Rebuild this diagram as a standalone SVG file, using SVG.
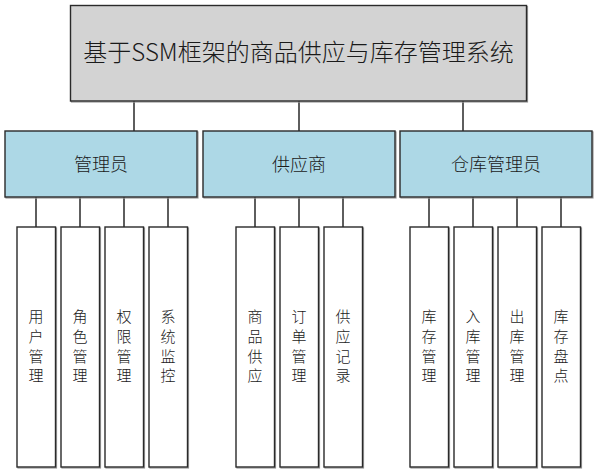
<svg xmlns="http://www.w3.org/2000/svg" width="597" height="473" viewBox="0 0 597 473">
<style>
.sh{fill:none;stroke:#9a9a9a;stroke-width:1.2}
.b{stroke:#2a2a2a;stroke-width:1.4}
.top{fill:#d3d3d3}
.mid{fill:#add8e6}
.leaf{fill:#ffffff}
.c{stroke:#2a2a2a;stroke-width:1.5;fill:none}
text{font-family:"Microsoft YaHei","Noto Sans CJK SC",sans-serif;fill:#1a1a1a;text-anchor:middle;font-weight:300}
.t1{font-size:24px}
.t2{font-size:18px}
.t3{font-size:15px}
</style>
<rect width="597" height="473" fill="#ffffff"/>
<g id="connectors">
<path class="c" d="M134,101V131M299,101V131M463,101V131"/>
<path class="c" d="M36,197V227M80,197V227M124,197V227M168,197V227"/>
<path class="c" d="M255,197V227M299,197V227M343,197V227"/>
<path class="c" d="M429,197V227M473,197V227M517,197V227M561,197V227"/>
</g>
<g id="root">
<rect class="sh" x="71.5" y="6.5" width="456" height="95.5"/>
<rect class="b top" x="70.5" y="5.5" width="456" height="95.5"/>
<text class="t1" x="298.5" y="61">基于SSM框架的商品供应与库存管理系统</text>
</g>
<g id="admin">
<rect class="sh" x="6" y="132" width="192" height="66"/>
<rect class="b mid" x="5" y="131" width="192" height="66"/>
<text class="t2" x="101" y="171">管理员</text>
</g>
<g id="supplier">
<rect class="sh" x="204" y="132" width="192" height="66"/>
<rect class="b mid" x="203" y="131" width="192" height="66"/>
<text class="t2" x="299" y="171">供应商</text>
</g>
<g id="keeper">
<rect class="sh" x="401" y="132" width="192" height="66"/>
<rect class="b mid" x="400" y="131" width="192" height="66"/>
<text class="t2" x="496" y="171">仓库管理员</text>
</g>
<g id="leaf-user"><rect class="sh" x="18" y="228" width="38.5" height="240"/><rect class="b leaf" x="17" y="227" width="38.5" height="240"/><text class="t3" y="322"><tspan x="36">用</tspan><tspan x="36" dy="20">户</tspan><tspan x="36" dy="19.5">管</tspan><tspan x="36" dy="19.5">理</tspan></text></g>
<g id="leaf-role"><rect class="sh" x="62" y="228" width="38.5" height="240"/><rect class="b leaf" x="61" y="227" width="38.5" height="240"/><text class="t3" y="322"><tspan x="80">角</tspan><tspan x="80" dy="20">色</tspan><tspan x="80" dy="19.5">管</tspan><tspan x="80" dy="19.5">理</tspan></text></g>
<g id="leaf-perm"><rect class="sh" x="106" y="228" width="38.5" height="240"/><rect class="b leaf" x="105" y="227" width="38.5" height="240"/><text class="t3" y="322"><tspan x="124">权</tspan><tspan x="124" dy="20">限</tspan><tspan x="124" dy="19.5">管</tspan><tspan x="124" dy="19.5">理</tspan></text></g>
<g id="leaf-monitor"><rect class="sh" x="150" y="228" width="38.5" height="240"/><rect class="b leaf" x="149" y="227" width="38.5" height="240"/><text class="t3" y="322"><tspan x="168">系</tspan><tspan x="168" dy="20">统</tspan><tspan x="168" dy="19.5">监</tspan><tspan x="168" dy="19.5">控</tspan></text></g>
<g id="leaf-goods"><rect class="sh" x="237" y="228" width="38.5" height="240"/><rect class="b leaf" x="236" y="227" width="38.5" height="240"/><text class="t3" y="322"><tspan x="255">商</tspan><tspan x="255" dy="20">品</tspan><tspan x="255" dy="19.5">供</tspan><tspan x="255" dy="19.5">应</tspan></text></g>
<g id="leaf-order"><rect class="sh" x="281" y="228" width="38.5" height="240"/><rect class="b leaf" x="280" y="227" width="38.5" height="240"/><text class="t3" y="322"><tspan x="299">订</tspan><tspan x="299" dy="20">单</tspan><tspan x="299" dy="19.5">管</tspan><tspan x="299" dy="19.5">理</tspan></text></g>
<g id="leaf-record"><rect class="sh" x="325" y="228" width="38.5" height="240"/><rect class="b leaf" x="324" y="227" width="38.5" height="240"/><text class="t3" y="322"><tspan x="343">供</tspan><tspan x="343" dy="20">应</tspan><tspan x="343" dy="19.5">记</tspan><tspan x="343" dy="19.5">录</tspan></text></g>
<g id="leaf-stock"><rect class="sh" x="411" y="228" width="38.5" height="240"/><rect class="b leaf" x="410" y="227" width="38.5" height="240"/><text class="t3" y="322"><tspan x="429">库</tspan><tspan x="429" dy="20">存</tspan><tspan x="429" dy="19.5">管</tspan><tspan x="429" dy="19.5">理</tspan></text></g>
<g id="leaf-in"><rect class="sh" x="455" y="228" width="38.5" height="240"/><rect class="b leaf" x="454" y="227" width="38.5" height="240"/><text class="t3" y="322"><tspan x="473">入</tspan><tspan x="473" dy="20">库</tspan><tspan x="473" dy="19.5">管</tspan><tspan x="473" dy="19.5">理</tspan></text></g>
<g id="leaf-out"><rect class="sh" x="499" y="228" width="38.5" height="240"/><rect class="b leaf" x="498" y="227" width="38.5" height="240"/><text class="t3" y="322"><tspan x="517">出</tspan><tspan x="517" dy="20">库</tspan><tspan x="517" dy="19.5">管</tspan><tspan x="517" dy="19.5">理</tspan></text></g>
<g id="leaf-check"><rect class="sh" x="543" y="228" width="38.5" height="240"/><rect class="b leaf" x="542" y="227" width="38.5" height="240"/><text class="t3" y="322"><tspan x="561">库</tspan><tspan x="561" dy="20">存</tspan><tspan x="561" dy="19.5">盘</tspan><tspan x="561" dy="19.5">点</tspan></text></g>
</svg>
